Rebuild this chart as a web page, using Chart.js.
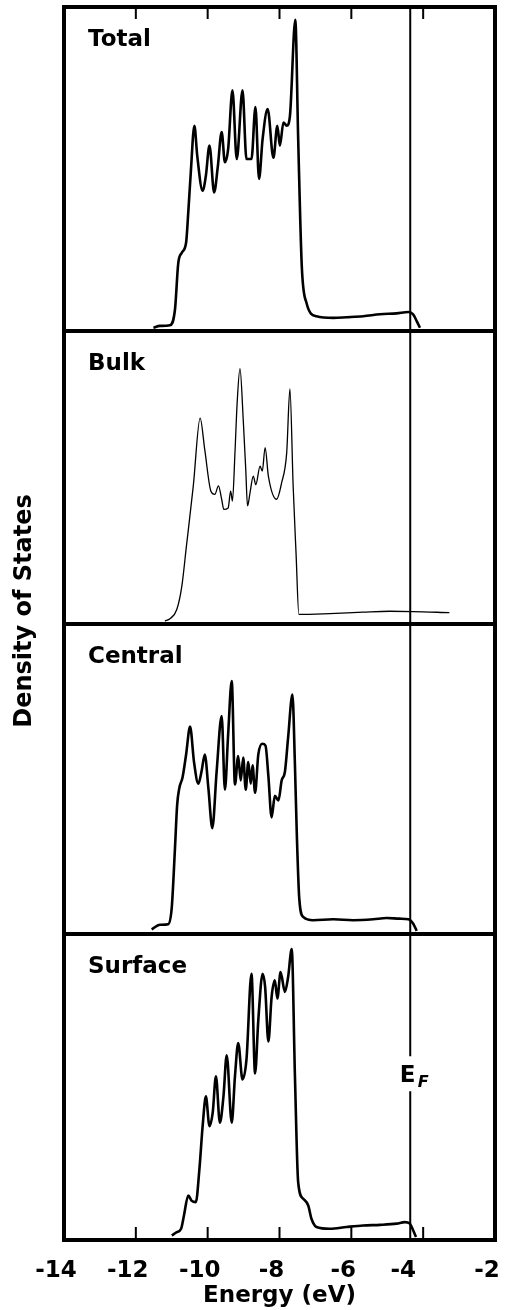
<!DOCTYPE html>
<html>
<head>
<meta charset="utf-8">
<script src="https://cdn.jsdelivr.net/npm/chart.js@4.4.1/dist/chart.umd.min.js"></script>
<style>
  html, body { margin: 0; padding: 0; background: #fff; }
  #wrap { width: 505px; height: 1310px; }
</style>
</head>
<body>
<div id="wrap"><canvas id="dosChart" width="505" height="1310"></canvas></div>
<script>
// Energía (eV) y densidad de estados, una pareja de listas por panel
const totalEnergy = [-11.51, -11.33, -11.05, -10.91, -10.82, -10.72, -10.60, -10.54,
    -10.47, -10.37, -10.29, -10.14, -10.05, -9.95, -9.82, -9.72,
    -9.61, -9.52, -9.43, -9.31, -9.19, -9.03, -8.92, -8.78,
    -8.67, -8.57, -8.47, -8.33, -8.17, -8.06, -7.99, -7.89,
    -7.80, -7.71, -7.56, -7.48, -7.38, -7.25, -6.97, -6.50,
    -6.13, -5.67, -5.20, -4.74, -4.41, -4.28, -4.18, -4.09];
const totalDos = [0, 0.6, 0.8, 5.7, 20, 23.4, 26.6, 36,
    48.4, 63, 53.6, 42.7, 47.4, 56.8, 42.2, 50,
    61, 51.6, 55.7, 74, 52.6, 74, 52.6, 52.6,
    68.8, 46.4, 58.9, 68.2, 53, 63, 56.8, 64,
    63, 66, 96, 58.9, 19.3, 7.8, 3.6, 3.1,
    3.3, 3.6, 4.2, 4.5, 4.9, 4.2, 2.1, 0];

const bulkEnergy = [-11.19, -11.05, -10.86, -10.72, -10.59, -10.40, -10.21, -10.08,
    -9.91, -9.80, -9.70, -9.61, -9.55, -9.43, -9.36, -9.31,
    -9.24, -9.18, -9.10, -9.01, -8.94, -8.89, -8.82, -8.73,
    -8.66, -8.54, -8.48, -8.40, -8.31, -8.08, -7.94, -7.80,
    -7.71, -7.62, -7.54, -7.46, -6.60, -5.67, -4.93, -4.28, -3.27];
const bulkDos = [0, 0.8, 4, 12, 26, 46.6, 70, 59,
    44.8, 43.7, 46.6, 42, 38.5, 39, 44.8, 41.4,
    58, 75, 87, 69.5, 52.3, 39.7, 44.3, 50,
    47, 53.4, 51.7, 59.8, 50, 42, 47.7, 58,
    80, 46.6, 23.6, 2.3, 2.6, 3.1, 3.4, 3.3, 2.9];

const centralEnergy = [-11.56, -11.33, -11.10, -11.00, -10.91, -10.85, -10.79, -10.70,
    -10.60, -10.49, -10.38, -10.26, -10.17, -10.08, -9.98, -9.87,
    -9.75, -9.61, -9.52, -9.43, -9.33, -9.24, -9.15, -9.08,
    -9.01, -8.94, -8.87, -8.80, -8.75, -8.68, -8.59, -8.48,
    -8.39, -8.31, -8.22, -8.13, -8.03, -7.94, -7.85, -7.76,
    -7.64, -7.57, -7.52, -7.45, -7.34, -7.06, -6.50, -5.95,
    -5.39, -5.02, -4.65, -4.41, -4.28, -4.18];
const centralDos = [0.5, 2, 2.2, 7.6, 27, 41, 46.5, 50,
    57.5, 66.6, 55, 48, 52, 57.5, 46.5, 33.5,
    52, 70, 46, 64, 81.4, 47.7, 57, 49,
    56.5, 46, 55, 48, 54, 45, 57.5, 61,
    60.4, 50.5, 37, 44, 42.5, 49, 51.8, 63,
    77, 54, 32.3, 10.6, 4.6, 3.5, 3.8, 3.5,
    3.8, 4.2, 4, 3.8, 2.4, 0];

const surfaceEnergy = [-11.00, -10.86, -10.74, -10.66, -10.54, -10.45, -10.33, -10.23,
    -10.14, -10.05, -9.95, -9.86, -9.77, -9.66, -9.56, -9.47,
    -9.33, -9.24, -9.15, -9.03, -8.92, -8.78, -8.68, -8.59,
    -8.47, -8.40, -8.31, -8.22, -8.13, -8.06, -7.97, -7.85,
    -7.76, -7.66, -7.57, -7.48, -7.34, -7.20, -7.11, -6.97,
    -6.60, -6.13, -5.67, -5.20, -4.74, -4.51, -4.37, -4.28, -4.20];
const surfaceDos = [0.5, 1.6, 2.7, 7.1, 13.7, 12, 11.5, 22.4,
    36.6, 46.4, 36.6, 41, 53, 37.7, 46.4, 60,
    37.7, 53, 64, 52, 58.5, 86.9, 54, 71.6,
    86.9, 82.5, 64.5, 79.2, 84.7, 78.7, 87.4, 80.9,
    85.8, 95, 53, 18, 12.6, 10.4, 6, 3.3,
    2.7, 3.3, 3.8, 4, 4.4, 4.9, 4.4, 2.2, 0];

const panelNames = ['Total', 'Bulk', 'Central', 'Surface'];
const xTicks = [-14, -12, -10, -8, -6, -4, -2];
const fermiEnergy = -4.36;
const fermiLabelLevel = 54;   // altura de la etiqueta E_F en el panel Surface

const panelIds = ['yTotal', 'yBulk', 'yCentral', 'ySurface'];
const panelWeights = [324, 293, 310, 306];
const FONT = '"DejaVu Sans", "Liberation Sans", sans-serif';

function pairs(xs, ys) {
    return xs.map((x, i) => ({ x: x, y: ys[i] }));
}

// Marcos, marcas internas, rótulos y la línea de Fermi
const framePlugin = {
    id: 'frames',
    beforeDatasetsDraw(chart) {
        const ctx = chart.ctx;
        const area = chart.chartArea;
        const xf = chart.scales.x.getPixelForValue(fermiEnergy);
        const labelY = chart.scales.ySurface.getPixelForValue(fermiLabelLevel);
        ctx.save();
        ctx.strokeStyle = '#000';
        ctx.lineWidth = 2;
        ctx.beginPath();
        ctx.moveTo(xf, area.top);
        ctx.lineTo(xf, labelY - 17);
        ctx.moveTo(xf, labelY + 18);
        ctx.lineTo(xf, area.bottom);
        ctx.stroke();
        ctx.restore();
    },
    afterDatasetsDraw(chart) {
        const ctx = chart.ctx;
        const x = chart.scales.x;
        ctx.save();
        ctx.strokeStyle = '#000';
        ctx.fillStyle = '#000';

        // marcas hacia dentro arriba (Total) y abajo (Surface)
        const top = chart.scales.yTotal.top;
        const bottom = chart.scales.ySurface.bottom;
        ctx.lineWidth = 2;
        ctx.beginPath();
        x.ticks.forEach(t => {
            if (t.value <= x.min || t.value >= x.max) return;
            const px = x.getPixelForValue(t.value);
            ctx.moveTo(px, top);
            ctx.lineTo(px, top + 12);
            ctx.moveTo(px, bottom);
            ctx.lineTo(px, bottom - 13);
        });
        ctx.stroke();

        // marcos de cada panel y sus nombres
        ctx.lineWidth = 4;
        ctx.font = 'bold 23px ' + FONT;
        ctx.textBaseline = 'alphabetic';
        ctx.textAlign = 'left';
        panelIds.forEach((id, i) => {
            const ys = chart.scales[id];
            ctx.strokeRect(x.left, ys.top, x.right - x.left, ys.bottom - ys.top);
            ctx.fillText(panelNames[i], x.left + 24, ys.top + 39);
        });

        // etiqueta E_F
        const xf = x.getPixelForValue(fermiEnergy);
        const labelY = chart.scales.ySurface.getPixelForValue(fermiLabelLevel);
        ctx.fillText('E', xf - 10.5, labelY + 8.8);
        ctx.font = 'bold italic 16px ' + FONT;
        ctx.fillText('F', xf + 7.5, labelY + 13.8);

        // título del eje vertical
        ctx.font = 'bold 24px ' + FONT;
        ctx.textAlign = 'center';
        ctx.textBaseline = 'middle';
        ctx.translate(25, 611);
        ctx.rotate(-Math.PI / 2);
        ctx.fillText('Density of States', 0, 0);
        ctx.restore();
    }
};

const seriesList = [
    { e: totalEnergy, d: totalDos, w: 2.6 },
    { e: bulkEnergy, d: bulkDos, w: 1.3 },
    { e: centralEnergy, d: centralDos, w: 2.6 },
    { e: surfaceEnergy, d: surfaceDos, w: 2.6 }
];

const datasets = seriesList.map((s, i) => ({
    label: panelNames[i],
    data: pairs(s.e, s.d),
    xAxisID: 'x',
    yAxisID: panelIds[i],
    borderColor: '#000',
    borderWidth: s.w,
    pointRadius: 0,
    fill: false,
    cubicInterpolationMode: 'monotone'
}));

const scales = {
    x: {
        type: 'linear',
        position: 'bottom',
        min: xTicks[0],
        max: xTicks[xTicks.length - 1],
        afterBuildTicks: s => { s.ticks = xTicks.map(v => ({ value: v })); },
        ticks: {
            color: '#000',
            font: { family: FONT, size: 23, weight: 'bold' },
            padding: 9,
            labelOffset: -8,
            maxRotation: 0,
            autoSkip: false,
            // el -4 está corrido a la izquierda de su marca, como en el original
            callback: v => (v === -4 ? '-4   ' : String(v))
        },
        grid: { display: false },
        border: { display: false },
        title: {
            display: true,
            text: 'Energy (eV)',
            color: '#000',
            font: { family: FONT, size: 23, weight: 'bold' },
            padding: { top: 6, bottom: 0 }
        },
        afterFit: s => { s.height = 70; s.paddingLeft = 0; s.paddingRight = 0; }
    }
};
// los ejes apilados se colocan de abajo hacia arriba: se declaran en orden inverso
panelIds.slice().reverse().forEach(id => {
    const i = panelIds.indexOf(id);
    scales[id] = {
        type: 'linear',
        position: 'left',
        stack: 'dos',
        stackWeight: panelWeights[i],
        min: -1,
        max: 100,
        ticks: { display: false },
        grid: { display: false },
        border: { display: false },
        afterFit: s => { s.width = 0; }
    };
});

new Chart(document.getElementById('dosChart').getContext('2d'), {
    type: 'line',
    data: { datasets: datasets },
    options: {
        responsive: false,
        devicePixelRatio: 1,
        animation: false,
        layout: { padding: { left: 64, right: 10, top: 7, bottom: 0 } },
        plugins: {
            legend: { display: false },
            tooltip: { enabled: false }
        },
        scales: scales
    },
    plugins: [framePlugin]
});
</script>
</body>
</html>
